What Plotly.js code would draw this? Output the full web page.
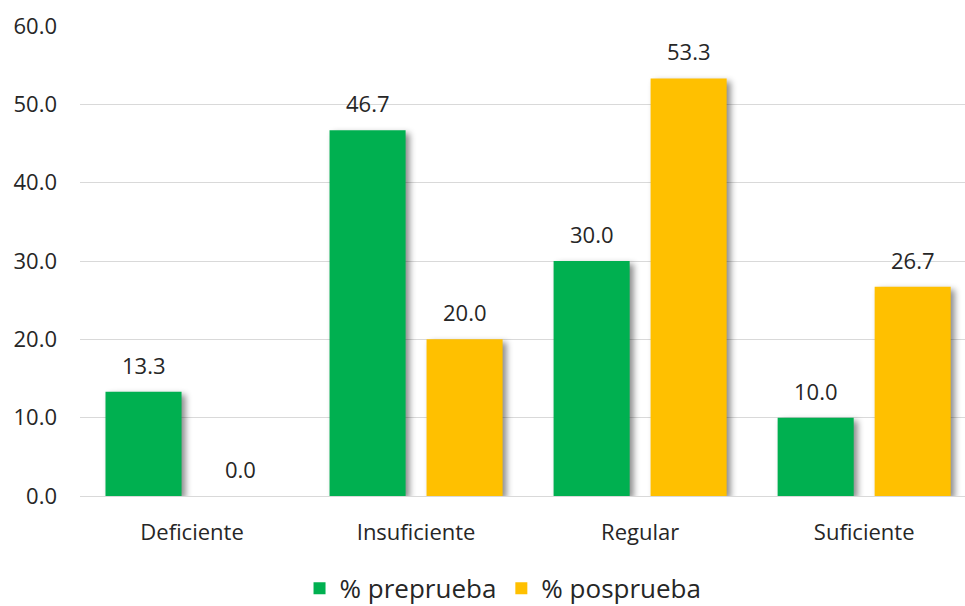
<!DOCTYPE html>
<html>
<head>
<meta charset="utf-8">
<script src="https://cdn.plot.ly/plotly-3.0.1.min.js"></script>
<style>
html,body{margin:0;padding:0;background:#fff;}
#chart{width:965px;height:606px;}
.trace.bars .point path{filter:drop-shadow(4px 3px 3px rgba(0,0,0,0.45));}
</style>
</head>
<body>
<div id="chart"></div>
<script>
const categories = ["Deficiente", "Insuficiente", "Regular", "Suficiente"];
const preprueba = [13.3, 46.7, 30.0, 10.0];
const posprueba = [0.0, 20.0, 53.3, 26.7];
const seriesNames = ["% preprueba", "% posprueba"];
const yTicks = [0, 10, 20, 30, 40, 50, 60];

const fontFam = "Open Sans, Noto Sans, sans-serif";
const txtColor = "#262626";
const traces = [
  {type:"bar", name:seriesNames[0], x:categories, y:preprueba, marker:{color:"#00B050"}},
  {type:"bar", name:seriesNames[1], x:categories, y:posprueba, marker:{color:"#FFC000"}}
];
const series = [preprueba, posprueba];
const slotShift = 48.5;
const annotations = [];
series.forEach((vals, si) => {
  vals.forEach((v, ci) => {
    annotations.push({x:categories[ci], y:v, xref:"x", yref:"y", text:v.toFixed(1),
      showarrow:false, xshift:(si === 0 ? -slotShift : slotShift), yshift:27,
      yanchor:"middle", font:{size:22, color:txtColor, family:fontFam}});
  });
});
const layout = {
  width:965, height:606,
  margin:{l:80, r:0, t:26, b:110},
  paper_bgcolor:"#fff", plot_bgcolor:"#fff",
  barmode:"group", bargap:0.134, bargroupgap:0.216,
  font:{family:fontFam, color:txtColor},
  xaxis:{range:[-0.5, 3.45], showgrid:false, showline:true, linecolor:"#d9d9d9",
         tickfont:{size:22, color:txtColor}, ticks:"", ticklabelstandoff:17, fixedrange:true},
  yaxis:{range:[0, 60], tickvals:yTicks, ticktext:yTicks.map(v=>v.toFixed(1)),
         showgrid:true, gridcolor:"#d9d9d9", gridwidth:1, zeroline:false,
         showline:false, tickfont:{size:22, color:txtColor}, ticklabelstandoff:22},
  annotations: annotations,
  showlegend:true,
  legend:{orientation:"h", x:0.478, xanchor:"center", xref:"paper",
          yref:"container", y:0.029, yanchor:"middle",
          font:{size:26, color:txtColor}, itemwidth:30, traceorder:"normal"},
};
Plotly.newPlot("chart", traces, layout, {displayModeBar:false, staticPlot:true});
</script>
</body>
</html>
